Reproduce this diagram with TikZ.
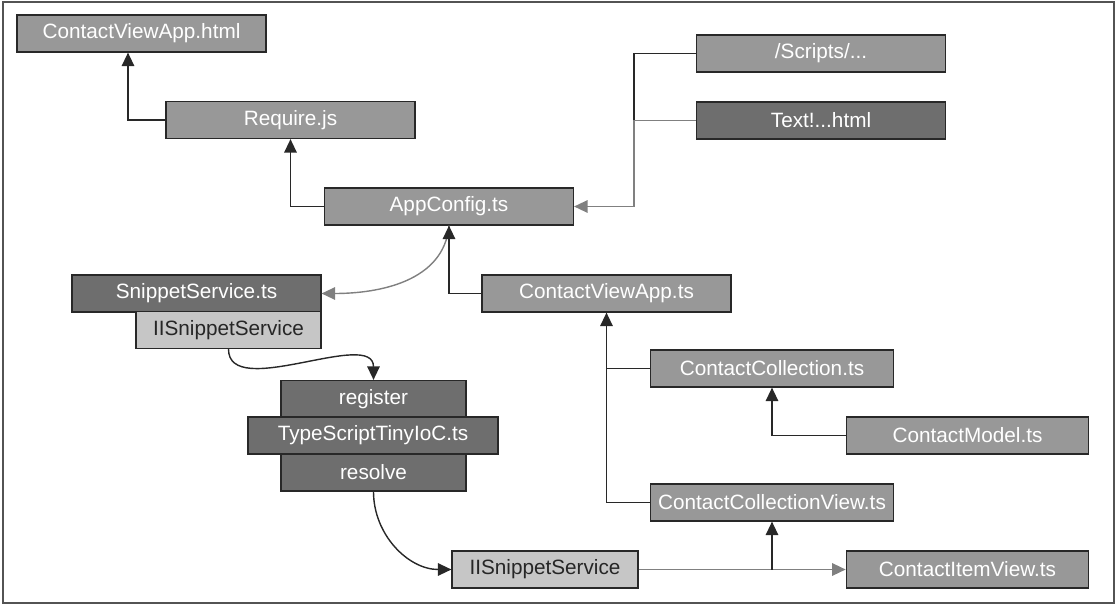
\documentclass[tikz,border=0pt]{standalone}
\usepackage{fontspec}
\setmainfont{Liberation Sans}
\usepackage{xcolor}
\usetikzlibrary{arrows.meta}
\definecolor{boxmid}{RGB}{152,152,152}
\definecolor{boxdark}{RGB}{110,110,110}
\definecolor{boxlight}{RGB}{198,198,198}
\definecolor{edgecol}{RGB}{40,40,40}
\definecolor{linegray}{RGB}{128,128,128}

\begin{document}
\begin{tikzpicture}[x=0.02cm,y=-0.02cm,
	box/.style={draw=edgecol, line width=0.7pt, minimum width=4.98cm, minimum height=0.74cm, inner sep=0pt, font=\fontsize{11.8}{14}\selectfont, text=white},
	mid/.style={box, fill=boxmid},
	dark/.style={box, fill=boxdark},
	light/.style={box, fill=boxlight, text=black!85, minimum width=3.7cm},
	link/.style={draw=edgecol, line width=0.8pt},
	weak/.style={draw=linegray, line width=0.8pt},
	headblack/.style={-{Triangle[length=0.27cm,width=0.25cm]}}
	]
	%\draw [help lines] (0,0) grid (1116,605);
	\useasboundingbox (0,0) rectangle (1116,605);
	
	%CORNICE
	\draw[edgecol!80, line width=1.1pt] (3,2) rectangle (1114,603);
	
	%BLOCCHI
	\node[mid] (html) at (141.5,33.5) {ContactViewApp.html};
	\node[mid] (require) at (290.5,120) {Require.js};
	\node[mid] (appcfg) at (449,206.5) {AppConfig.ts};
	\node[mid] (scripts) at (821,53.5) {/Scripts/...};
	\node[dark] (textres) at (821,120.5) {Text!...html};
	\node[dark] (snippet) at (196.5,293.5) {SnippetService.ts};
	\node[light] (isnip) at (228.5,330) {IISnippetService};
	\node[mid] (cva) at (606.5,293.5) {ContactViewApp.ts};
	
	\node[dark, minimum width=3.7cm] (register) at (373.5,399) {register};
	\node[dark, minimum width=5cm] (tinyioc) at (373,435.5) {TypeScriptTinyIoC.ts};
	\node[dark, minimum width=3.7cm] (resolve) at (373.5,472.5) {resolve};
	\node[light, minimum width=3.72cm] (isnip2) at (545,569.5) {IISnippetService};
	
	\node[mid, minimum width=4.85cm] (coll) at (772,368.5) {ContactCollection.ts};
	\node[mid, minimum width=4.85cm] (model) at (967.5,435.5) {ContactModel.ts};
	\node[mid, minimum width=4.85cm] (collview) at (772,502.5) {ContactCollectionView.ts};
	\node[mid, minimum width=4.85cm] (itemview) at (967.5,569.5) {ContactItemView.ts};
	
	%FRECCE
	\draw[link, headblack] (require.west) -| ([xshift=-0.27cm]html.south);
	\draw[link, headblack] (appcfg.west) -| (require.south);
	
	\coordinate (jn) at (634,120.5);
	\draw[link] (scripts.west) -| (jn);
	\draw[weak, headblack] (textres.west) -- (jn) |- (appcfg.east);
	
	\draw[weak, headblack] (appcfg.south) to[out=-95, in=0] (snippet.east);
	\draw[link, headblack] (cva.west) -| (appcfg.south);
	
	\draw[link, headblack] (isnip.south) to[out=-90, in=90, looseness=0.9] (register.north);
	\draw[link, headblack] (resolve.south) to[out=-90, in=180] (isnip2.west);
	
	\draw[link] (coll.west) -- (coll.west -| cva.south);
	\draw[link, headblack] (collview.west) -| (cva.south);
	\draw[link, headblack] (model.west) -| (coll.south);
	
	\draw[weak, headblack] (isnip2.east) -- (itemview.west);
	\draw[link, headblack] (isnip2.east -| collview.south) -- (collview.south);
	
\end{tikzpicture}
\end{document}
